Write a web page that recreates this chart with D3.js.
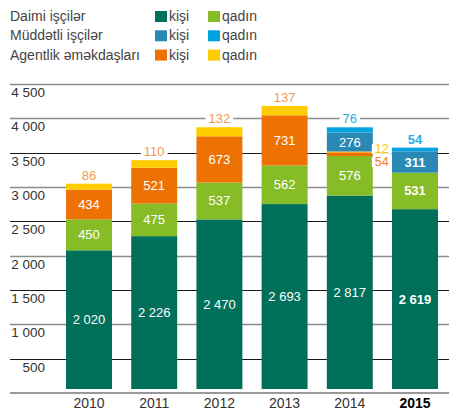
<!DOCTYPE html>
<html>
<head>
	<meta charset="utf-8">
	<title>işçilər</title>
	<script src="https://cdn.jsdelivr.net/npm/d3@7"></script>
</head>
<style type="text/css">
body
{
	margin: 0;
	background-color: #fff;
}
text
{
	font-family: "Liberation Sans", Arial, sans-serif;
}
</style>
<body>
</body>
</html>
<script type="text/javascript">
	var w = 449;
	var h = 411;

	var years = ["2010", "2011", "2012", "2013", "2014", "2015"];
	var daimiKisi = [2020, 2226, 2470, 2693, 2817, 2619];
	var daimiQadin = [450, 475, 537, 562, 576, 531];
	var agentKisi = [434, 521, 673, 731, 54, 0];
	var agentQadin = [86, 110, 132, 137, 12, 0];
	var muddetKisi = [0, 0, 0, 0, 276, 311];
	var muddetQadin = [0, 0, 0, 0, 76, 54];
	var yTicks = [500, 1000, 1500, 2000, 2500, 3000, 3500, 4000, 4500];

	var keys = ["dk", "dq", "ak", "aq", "mk", "mq"];
	var colors = {dk:"#00705a", dq:"#86bc25", ak:"#ee7203", aq:"#ffcc00", mk:"#2a88b4", mq:"#00a3e0"};

	// rows for the stack
	var rows = years.map(function(y, i){
		return {year:y, dk:daimiKisi[i], dq:daimiQadin[i], ak:agentKisi[i], aq:agentQadin[i], mk:muddetKisi[i], mq:muddetQadin[i]};
	});

	var fmt = d3.formatLocale({decimal:",", thousands:"\u2009", grouping:[3], currency:["",""]}).format(",d");
	var fmtNum = function(v){ return fmt(v).replace("\u2009", " "); };

	var svg = d3.select("body").append("svg").attr("width", w).attr("height", h);

	var x = d3.scaleBand()
				.domain(years)
				.range([56.4, 447.6])
				.paddingInner(0.295)
				.paddingOuter(0.1475);
	var y = d3.scaleLinear()
				.domain([0, 4500])
				.range([393, 84]);
	var gap = 4; // bars sit a little above the baseline

	// grid lines
	var grid = svg.append("g");
	grid.selectAll("line").data(yTicks).enter().append("line")
		.attr("x1", 10).attr("x2", w)
		.attr("y1", function(d){return Math.round(y(d)) + 0.5})
		.attr("y2", function(d){return Math.round(y(d)) + 0.5})
		.attr("stroke", function(d){return (d % 1000 == 0 || d == 4500) ? "#8c8c8c" : "#1a1a1a"})
		.attr("stroke-width", function(d){return (d % 1000 == 0 || d == 4500) ? 1.4 : 1});
	grid.selectAll("text").data(yTicks).enter().append("text")
		.attr("x", 45)
		.attr("y", function(d){return Math.round(y(d)) + 13})
		.attr("text-anchor", "end")
		.attr("font-size", 13.5)
		.attr("fill", "#333")
		.text(fmtNum);
	svg.append("line")
		.attr("x1", 10).attr("x2", w)
		.attr("y1", y(0)).attr("y2", y(0))
		.attr("stroke", "#999").attr("stroke-width", 2);

	var series = d3.stack().keys(keys)(rows);

	var bars = svg.append("g").attr("transform", "translate(0," + (-gap) + ")");
	bars.selectAll("g").data(series).enter().append("g")
		.attr("fill", function(d){return colors[d.key]})
		.selectAll("rect").data(function(d){return d}).enter().append("rect")
		.attr("x", function(d){return x(d.data.year)})
		.attr("width", x.bandwidth())
		.attr("y", function(d){return y(d[1])})
		.attr("height", function(d){return y(d[0]) - y(d[1])});

	// value labels
	var labels = [];
	rows.forEach(function(r, i){
		var topKey = null;
		keys.forEach(function(k){ if (r[k] > 0) topKey = k; });
		var right = [];
		keys.forEach(function(k, j){
			var v = r[k];
			if (v <= 0) return;
			var s = series[j][i];
			var y0 = y(s[0]) - gap, y1 = y(s[1]) - gap;
			var cx = x(r.year) + x.bandwidth() / 2;
			var bold = r.year == "2015";
			if (y0 - y1 > 14) {
				labels.push({text:fmtNum(v), x:cx, y:(y0 + y1) / 2 + 4.5, anchor:"middle", fill:"#fff", bold:bold, bg:false});
			} else if (k == topKey) {
				var c = k == "aq" ? "#f39a52" : "#2aaee6";
				labels.push({text:fmtNum(v), x:cx, y:y1 - 4, anchor:"middle", fill:c, bold:bold, bg:true});
			} else {
				right.push({k:k, v:v, mid:(y0 + y1) / 2});
			}
		});
		// small segments inside the bar go to its right, top first
		right.reverse();
		right.forEach(function(d, n){
			var c = d.k == "aq" ? "#fcc800" : "#f0802a";
			labels.push({text:fmtNum(d.v), x:x(r.year) + x.bandwidth() + 2, y:right[0].mid + 1 + n * 13, anchor:"start", fill:c, bold:false, bg:true});
		});
	});

	var lab = svg.append("g");
	var lt = lab.selectAll("text").data(labels).enter().append("text")
		.attr("x", function(d){return d.x})
		.attr("y", function(d){return d.y})
		.attr("text-anchor", function(d){return d.anchor})
		.attr("font-size", function(d){return d.anchor == "start" ? 12.5 : 13})
		.attr("font-weight", function(d){return d.bold ? "bold" : "normal"})
		.attr("fill", function(d){return d.fill})
		.text(function(d){return d.text});
	// white patches so the grid lines break behind the outside labels
	lt.each(function(d){
		if (!d.bg) return;
		var b = this.getBBox();
		lab.insert("rect", "text")
			.attr("x", b.x - 3).attr("y", b.y + 2)
			.attr("width", b.width + 6).attr("height", b.height - 4)
			.attr("fill", "#fff");
	});

	// x labels
	svg.append("g").selectAll("text").data(years).enter().append("text")
		.attr("x", function(d){return x(d) + x.bandwidth() / 2})
		.attr("y", 408)
		.attr("text-anchor", "middle")
		.attr("font-size", 14)
		.attr("font-weight", function(d){return d == "2015" ? "bold" : "normal"})
		.attr("fill", function(d){return d == "2015" ? "#000" : "#333"})
		.text(function(d){return d});

	// legend
	var legRows = [
		{name:"Daimi işçilər", k1:"dk", k2:"dq"},
		{name:"Müddətli işçilər", k1:"mk", k2:"mq"},
		{name:"Agentlik əməkdaşları", k1:"ak", k2:"aq"}
	];
	var leg = svg.append("g").selectAll("g").data(legRows).enter().append("g")
		.attr("transform", function(d, i){return "translate(0," + (21 + i * 19.3) + ")"});
	leg.append("text").attr("x", 10).attr("font-size", 14).attr("fill", "#444").text(function(d){return d.name});
	leg.append("rect").attr("x", 155).attr("y", -10).attr("width", 12).attr("height", 11).attr("fill", function(d){return colors[d.k1]});
	leg.append("text").attr("x", 169).attr("font-size", 14).attr("fill", "#444").text("kişi");
	leg.append("rect").attr("x", 208).attr("y", -10).attr("width", 12).attr("height", 11).attr("fill", function(d){return colors[d.k2]});
	leg.append("text").attr("x", 222).attr("font-size", 14).attr("fill", "#444").text("qadın");
</script>
